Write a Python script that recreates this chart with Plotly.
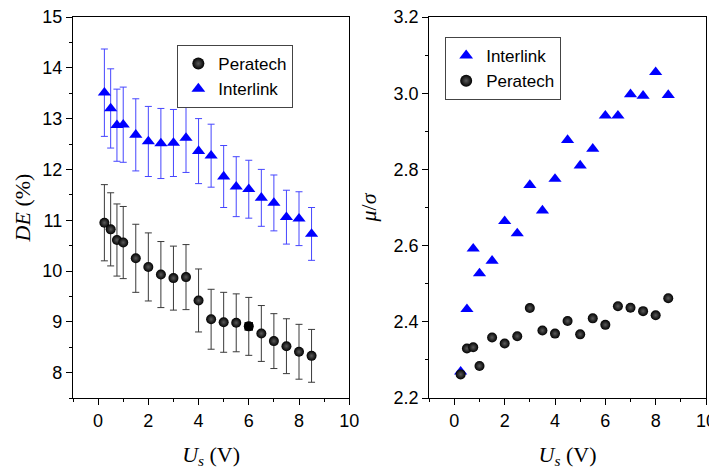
import plotly.graph_objects as go

# ---------------- data ----------------
us = [0.25, 0.5, 0.75, 1.0, 1.5, 2.0, 2.5, 3.0, 3.5, 4.0, 4.5, 5.0, 5.5, 6.0, 6.5, 7.0, 7.5, 8.0, 8.5]

de_peratech = [10.95, 10.82, 10.61, 10.56, 10.25, 10.08, 9.93, 9.86, 9.88, 9.42,
               9.05, 8.99, 8.98, 8.91, 8.77, 8.62, 8.52, 8.41, 8.33]
de_peratech_err = [0.75, 0.72, 0.71, 0.71, 0.67, 0.67, 0.65, 0.63, 0.64, 0.62,
                   0.59, 0.59, 0.57, 0.57, 0.55, 0.54, 0.54, 0.54, 0.52]

de_interlink = [13.51, 13.20, 12.87, 12.88, 12.68, 12.55, 12.51, 12.52, 12.62, 12.36,
                12.27, 11.86, 11.66, 11.61, 11.44, 11.34, 11.06, 11.03, 10.73]
de_interlink_err = [0.86, 0.78, 0.71, 0.74, 0.71, 0.69, 0.69, 0.66, 0.68, 0.64,
                    0.62, 0.61, 0.59, 0.57, 0.56, 0.55, 0.53, 0.53, 0.52]

ms_interlink = [2.269, 2.433, 2.592, 2.527, 2.560, 2.664, 2.632, 2.759, 2.692, 2.775,
                2.877, 2.810, 2.854, 2.941, 2.941, 2.997, 2.993, 3.055, 2.995]
ms_peratech = [2.262, 2.330, 2.333, 2.284, 2.359, 2.343, 2.362, 2.436, 2.377, 2.369,
               2.402, 2.367, 2.409, 2.392, 2.441, 2.437, 2.428, 2.417, 2.462]

x_range = [-1, 10]
de_range = [7.5, 15]
ms_range = [2.2, 3.2]

# ---------------- style ----------------
OFF = 8  # page body margin
W, H = 717 - OFF, 473 - OFF
ML, MT = 72.6 - OFF, 17 - OFF
MR = W - (706 - OFF)
MB = H - (398 - OFF)
PW = W - ML - MR
PH = H - MT - MB
dom_left = [0, (349 - 72.6) / PW]
dom_right = [(429 - 72.6) / PW, 1]

tick_font = dict(family="Liberation Sans, Arial, sans-serif", size=18, color="black")
title_font = dict(family="Liberation Serif, Times New Roman, serif", size=22, color="black")
legend_font = dict(family="Liberation Sans, Arial, sans-serif", size=17, color="black")

blue = "#0000ff"
blue_err = "rgb(70,70,255)"
dark_err = "#3a3a3a"

square_idx = us.index(6.0)

sphere = dict(color="black", size=10, symbol="circle",
              gradient=dict(type="radial", color="#5a5a5a"), line=dict(width=0))
tri = dict(color=blue, size=11.5, symbol="triangle-up", line=dict(width=0))

fig = go.Figure()

# Left panel
fig.add_trace(go.Scatter(
    x=us, y=de_peratech, mode="markers", name="Peratech",
    marker=sphere, xaxis="x", yaxis="y", legend="legend",
    error_y=dict(type="data", array=de_peratech_err, visible=True,
                 color=dark_err, thickness=1, width=3.5)))
fig.add_trace(go.Scatter(
    x=us, y=de_interlink, mode="markers", name="Interlink",
    marker=tri, xaxis="x", yaxis="y", legend="legend",
    error_y=dict(type="data", array=de_interlink_err, visible=True,
                 color=blue_err, thickness=1, width=3.5)))
# the one point drawn as a plain black square in the original
fig.add_trace(go.Scatter(
    x=[us[square_idx]], y=[de_peratech[square_idx]], mode="markers",
    marker=dict(color="black", size=8.5, symbol="square", line=dict(width=0)),
    xaxis="x", yaxis="y", showlegend=False, hoverinfo="skip"))

# Right panel
fig.add_trace(go.Scatter(
    x=us, y=ms_interlink, mode="markers", name="Interlink",
    marker=tri, xaxis="x2", yaxis="y2", legend="legend2"))
fig.add_trace(go.Scatter(
    x=us, y=ms_peratech, mode="markers", name="Peratech",
    marker=sphere, xaxis="x2", yaxis="y2", legend="legend2"))

axis_common = dict(showline=True, linecolor="black", linewidth=1.3,
                   ticks="outside", ticklen=6, tickwidth=1.2, tickcolor="black",
                   showgrid=False, zeroline=False, tickfont=tick_font, mirror=True,
                   automargin=False, ticklabeloverflow="allow")
mirror_common = dict(showline=False, ticks="inside", ticklen=6, tickwidth=1.2,
                     tickcolor="black", showgrid=False, zeroline=False,
                     showticklabels=False, automargin=False)

fig.update_layout(
    width=W, height=H,
    margin=dict(l=ML, r=MR, t=MT, b=MB, pad=0, autoexpand=False),
    paper_bgcolor="white", plot_bgcolor="white",
    xaxis=dict(domain=dom_left, range=x_range, dtick=2, tick0=0, anchor="y",
               minor=dict(dtick=1, ticklen=3, ticks="outside", tickcolor="black"),
               title=dict(text="<i>U</i><sub><i>s</i></sub> (V)", font=title_font, standoff=16),
               **axis_common),
    yaxis=dict(domain=[0, 1], range=de_range, dtick=1, tick0=0, anchor="x",
               minor=dict(dtick=0.5, ticklen=3, ticks="outside", tickcolor="black"),
               title=dict(text="<i>DE</i> (%)", font=title_font, standoff=5),
               **axis_common),
    xaxis2=dict(domain=dom_right, range=x_range, dtick=2, tick0=0, anchor="y2",
                minor=dict(dtick=1, ticklen=3, ticks="outside", tickcolor="black"),
                title=dict(text="<i>U</i><sub><i>s</i></sub> (V)", font=title_font, standoff=16),
                **axis_common),
    yaxis2=dict(domain=[0, 1], range=ms_range, dtick=0.2, tick0=0, anchor="x2",
                tickformat=".1f",
                minor=dict(dtick=0.1, ticklen=3, ticks="outside", tickcolor="black"),
                title=dict(text="<i>μ</i>/<i>σ</i>", font=title_font, standoff=10),
                **axis_common),
    # inward mirror ticks (top / right)
    xaxis3=dict(overlaying="x", side="top", anchor="y", range=x_range, dtick=2, tick0=0,
                minor=dict(dtick=1, ticklen=3, ticks="inside", tickcolor="black"),
                **mirror_common),
    yaxis3=dict(overlaying="y", side="right", anchor="x", range=de_range, dtick=1, tick0=0,
                minor=dict(dtick=0.5, ticklen=3, ticks="inside", tickcolor="black"),
                **mirror_common),
    xaxis4=dict(overlaying="x2", side="top", anchor="y2", range=x_range, dtick=2, tick0=0,
                minor=dict(dtick=1, ticklen=3, ticks="inside", tickcolor="black"),
                **mirror_common),
    yaxis4=dict(overlaying="y2", side="right", anchor="x2", range=ms_range, dtick=0.2, tick0=0,
                minor=dict(dtick=0.1, ticklen=3, ticks="inside", tickcolor="black"),
                **mirror_common),
    legend=dict(x=(177 - 72.6) / PW, y=1 - (45 - 17) / PH,
                xanchor="left", yanchor="top", bgcolor="white",
                bordercolor="#444", borderwidth=1, font=legend_font,
                tracegroupgap=0, itemsizing="constant"),
    legend2=dict(x=(445 - 72.6) / PW, y=1 - (37 - 17) / PH,
                 xanchor="left", yanchor="top", bgcolor="white",
                 bordercolor="#444", borderwidth=1, font=legend_font,
                 tracegroupgap=0, itemsizing="constant"),
    showlegend=True,
)

fig.write_html("out.html")
